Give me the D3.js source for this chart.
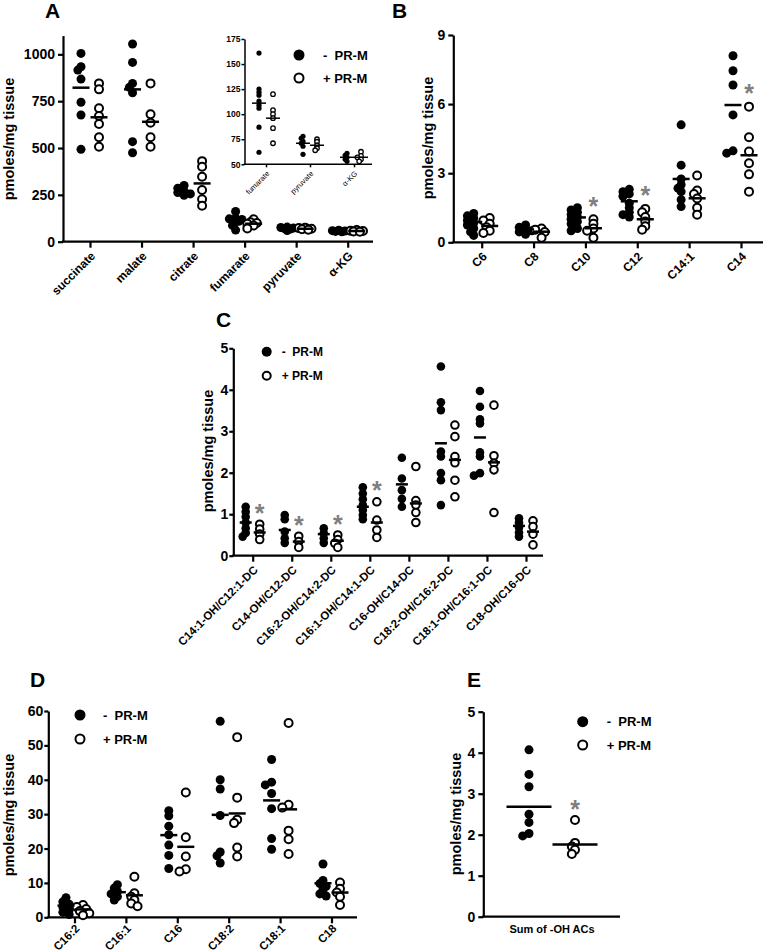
<!DOCTYPE html>
<html>
<head>
<meta charset="utf-8">
<script src="https://cdn.jsdelivr.net/npm/d3@7"></script>
<style>
  html, body { margin: 0; padding: 0; background: #fff; }
  svg { display: block; }
</style>
</head>
<body>
<svg id="chart" width="768" height="952"></svg>
<script>
// ---------------- DATA ----------------
// Panel A (main)
const aCategories = ["succinate", "malate", "citrate", "fumarate", "pyruvate", "α-KG"];
const aTicks = [0, 250, 500, 750, 1000];
const aMinus = [
  [1005, 934, 916, 868, 744, 676, 493],
  [1055, 957, 845, 824, 795, 534, 475],
  [300, 285, 270, 262, 255, 248],
  [161, 125, 122, 119, 113, 109, 106, 87, 62],
  [78, 76, 73, 71, 68, 60],
  [61, 59, 57, 55, 53]
];
const aPlus = [
  [845, 813, 712, 671, 628, 557, 507],
  [845, 680, 635, 557, 507],
  [430, 400, 347, 276, 226, 192],
  [120, 104, 100, 96, 86, 71],
  [75, 72.5, 69, 66, 64],
  [62.5, 58.5, 57, 55, 53]
];
const aMeanMinus = [822, 813, 270, 111, 71, 57];
const aMeanPlus = [664, 640, 311, 96, 69, 57];
// Panel A inset
const insetCategories = ["fumarate", "pyruvate", "α-KG"];
const insetTicks = [50, 75, 100, 125, 150, 175];

// Panel B
const bCategories = ["C6", "C8", "C10", "C12", "C14:1", "C14"];
const bTicks = [0, 3, 6, 9];
const bMinus = [
  [1.25, 1.15, 1.05, 0.95, 0.85, 0.75, 0.6, 0.45, 0.3],
  [0.75, 0.65, 0.55, 0.5, 0.45, 0.35],
  [1.5, 1.4, 1.3, 1.2, 1.1, 1.0, 0.9, 0.8, 0.6, 0.5],
  [2.3, 2.2, 2.1, 2.0, 1.7, 1.5, 1.3, 1.2, 1.1],
  [5.1, 3.35, 2.75, 2.5, 2.35, 2.2, 1.85, 1.55],
  [8.1, 7.45, 6.83, 5.53, 3.97, 3.87]
];
const bPlus = [
  [1.05, 0.95, 0.8, 0.65, 0.5, 0.4],
  [0.6, 0.55, 0.45, 0.2],
  [1.0, 0.8, 0.6, 0.5, 0.2],
  [1.45, 1.3, 1.1, 0.9, 0.7, 0.55],
  [2.9, 2.25, 2.1, 1.9, 1.5, 1.2],
  [5.89, 4.56, 3.94, 3.43, 2.95, 2.2]
];
const bMeanMinus = [0.88, 0.56, 1.08, 1.78, 2.75, 5.96];
const bMeanPlus = [0.71, 0.46, 0.61, 1.0, 1.91, 3.78];
const bStarCats = ["C10", "C12", "C14"];
const bStarValues = [1.84, 2.32, 6.73];

// Panel C
const cCategories = ["C14:1-OH/C12:1-DC", "C14-OH/C12-DC", "C16:2-OH/C14:2-DC", "C16:1-OH/C14:1-DC",
  "C16-OH/C14-DC", "C18:2-OH/C16:2-DC", "C18:1-OH/C16:1-DC", "C18-OH/C16-DC"];
const cTicks = [0, 1, 2, 3, 4, 5];
const cMinus = [
  [1.18, 1.06, 0.94, 0.8, 0.66, 0.55, 0.46],
  [0.98, 0.88, 0.58, 0.42, 0.31],
  [0.66, 0.54, 0.42, 0.31],
  [1.65, 1.5, 1.36, 1.22, 1.1, 0.98, 0.88],
  [2.36, 1.86, 1.58, 1.37, 1.18],
  [4.56, 3.7, 3.51, 2.51, 2.39, 1.99, 1.82, 1.22],
  [3.97, 3.59, 3.29, 3.19, 2.49, 2.39, 1.99, 1.93],
  [0.9, 0.8, 0.68, 0.56, 0.46]
];
const cPlus = [
  [0.76, 0.64, 0.52, 0.39],
  [0.47, 0.34, 0.2],
  [0.5, 0.39, 0.3, 0.2],
  [1.3, 0.86, 0.62, 0.44],
  [2.15, 1.33, 1.22, 1.04, 0.8],
  [3.15, 2.87, 2.39, 2.24, 1.82, 1.42],
  [3.63, 2.41, 2.23, 2.07, 1.04],
  [0.84, 0.7, 0.52, 0.26]
];
const cMeanMinus = [0.8, 0.62, 0.52, 1.18, 1.72, 2.71, 2.85, 0.72];
const cMeanPlus = [0.56, 0.34, 0.36, 0.8, 1.26, 2.31, 2.25, 0.58];
const cStarCats = ["C14:1-OH/C12:1-DC", "C14-OH/C12-DC", "C16:2-OH/C14:2-DC", "C16:1-OH/C14:1-DC"];
const cStarValues = [1.18, 0.88, 0.9, 1.73];

// Panel D
const dCategories = ["C16:2", "C16:1", "C16", "C18:2", "C18:1", "C18"];
const dTicks = [0, 10, 20, 30, 40, 50, 60];
const dMinus = [
  [5.7, 4.5, 3.8, 3.0, 2.2, 1.5, 0.8],
  [9.5, 8.5, 7.5, 6.8, 6.0, 5.0],
  [31, 29.5, 26.5, 24, 21, 18, 14.2],
  [57, 40, 37.3, 29.6, 19, 17.9, 15.8],
  [45.9, 39.3, 38.5, 36, 31.6, 22.9, 19.8],
  [15.5, 10.7, 9.8, 9.0, 8.0, 6.8, 6.2]
];
const dPlus = [
  [3.6, 3.0, 2.4, 1.8, 1.2, 0.6],
  [11.8, 7.0, 6.0, 5.0, 4.0, 3.2],
  [36.3, 23.3, 17.7, 14, 13.3],
  [52.4, 34.8, 28.4, 27.4, 20.3, 17.7],
  [56.5, 32.7, 31.9, 25.2, 22.7, 18.4],
  [10.1, 8.3, 7.2, 6.0, 3.6]
];
const dMeanMinus = [3.4, 7.3, 23.9, 29.8, 34, 9.9];
const dMeanPlus = [2.3, 6.4, 20.5, 30.2, 31.4, 7.2];

// Panel E
const eCategories = ["Sum of -OH ACs"];
const eTicks = [0, 1, 2, 3, 4, 5];
const eMinus = [[4.07, 3.47, 3.17, 2.5, 2.3, 2.03, 1.97]];
const ePlus = [[2.36, 1.8, 1.71, 1.63, 1.53]];
const eMeanMinus = [2.68];
const eMeanPlus = [1.76];
const eStarCats = ["Sum of -OH ACs"];
const eStarValues = [2.78];

const legendMinus = "-  PR-M";
const legendPlus = "+ PR-M";
const yLabel = "pmoles/mg tissue";

// ---------------- DRAWING ----------------
const FONT = "'Liberation Sans', Arial, Helvetica, sans-serif";
const svg = d3.select("#chart");
svg.append("rect").attr("width", 768).attr("height", 952).attr("fill", "#fff");

function swarm(vals, y, r) {
  const pts = vals.map(v => ({ v, py: y(v), dx: 0 }));
  const sorted = pts.slice().sort((a, b) => a.py - b.py);
  const placed = [];
  const minD = r * 0.95, step = r * 0.7;
  const cands = [0];
  for (let k = 1; k <= 2; k++) cands.push(-k * step, k * step);
  for (const p of sorted) {
    let best = null, bestD = -1;
    for (const dx of cands) {
      let md = Infinity;
      for (const q of placed) md = Math.min(md, Math.hypot(q.dx - dx, q.py - p.py));
      if (md >= minD) { best = dx; break; }
      if (md > bestD) { bestD = md; best = dx; }
    }
    p.dx = best;
    placed.push(p);
  }
  return pts;
}

function drawPanel(c) {
  const g = svg.append("g");
  const y = d3.scaleLinear().domain(c.domain).range([c.yBottom, c.yTop]);
  const x = d3.scalePoint().domain(c.cats).range([c.first, c.last]);

  // y axis
  const ya = g.append("g").attr("transform", `translate(${c.x0},0)`)
    .call(d3.axisLeft(y).tickValues(c.ticks).tickFormat(d3.format("d"))
      .tickSize(c.tickLen).tickPadding(c.tickPad).tickSizeOuter(0));
  ya.select(".domain").attr("stroke", "#000").attr("stroke-width", c.sw);
  ya.selectAll(".tick line").attr("stroke", "#000").attr("stroke-width", c.sw);
  ya.selectAll(".tick text").attr("font-family", FONT).attr("font-weight", "bold")
    .attr("font-size", c.yFont).attr("fill", "#000");

  // x axis line
  g.append("line").attr("x1", c.x0 - c.sw / 2).attr("x2", c.x1)
    .attr("y1", c.yBottom).attr("y2", c.yBottom).attr("stroke", "#000").attr("stroke-width", c.sw);

  // x ticks
  const xa = g.append("g").attr("transform", `translate(0,${c.yBottom})`)
    .call(d3.axisBottom(x).tickSize(c.xTickLen).tickSizeOuter(0));
  xa.select(".domain").remove();
  xa.selectAll(".tick line").attr("stroke", "#000").attr("stroke-width", c.sw);
  xa.selectAll(".tick text").remove();

  // x labels
  c.cats.forEach(cat => {
    if (c.rotate) {
      const ax = x(cat) + c.lblDx, ay = c.yBottom + c.lblDy;
      g.append("text").attr("transform", `translate(${ax},${ay}) rotate(-45)`)
        .attr("text-anchor", "end").attr("dy", "0.35em")
        .attr("font-family", FONT).attr("font-weight", c.xBold ? "bold" : "normal")
        .attr("font-size", c.xFont).attr("fill", "#000").text(cat);
    } else {
      g.append("text").attr("x", x(cat)).attr("y", c.yBottom + c.lblDy)
        .attr("text-anchor", "middle")
        .attr("font-family", FONT).attr("font-weight", "bold")
        .attr("font-size", c.xFont).attr("fill", "#000").text(cat);
    }
  });

  // dots
  c.cats.forEach((cat, i) => {
    const cx0 = x(cat) - c.off, cx1 = x(cat) + c.off;
    swarm(c.minus[i], y, c.r).forEach(p => {
      g.append("circle").attr("cx", cx0 + p.dx).attr("cy", p.py).attr("r", c.r).attr("fill", "#000");
    });
    swarm(c.plus[i], y, c.r).forEach(p => {
      g.append("circle").attr("cx", cx1 + p.dx).attr("cy", p.py).attr("r", c.r + c.openExtra - c.osw / 2)
        .attr("fill", "#fff").attr("stroke", "#000").attr("stroke-width", c.osw);
    });
    // mean lines
    g.append("line").attr("x1", cx0 - c.meanW / 2).attr("x2", cx0 + c.meanW / 2)
      .attr("y1", y(c.meanMinus[i])).attr("y2", y(c.meanMinus[i]))
      .attr("stroke", "#000").attr("stroke-width", c.meanSw);
    g.append("line").attr("x1", cx1 - c.meanW / 2).attr("x2", cx1 + c.meanW / 2)
      .attr("y1", y(c.meanPlus[i])).attr("y2", y(c.meanPlus[i]))
      .attr("stroke", "#000").attr("stroke-width", c.meanSw);
  });

  // stars
  if (c.starCats) {
    c.starCats.forEach((cat, i) => {
      const fs = 25;
      g.append("text").attr("x", x(cat) + c.off).attr("y", y(c.starValues[i]) + fs * 0.6)
        .attr("text-anchor", "middle").attr("font-family", FONT).attr("font-weight", "bold")
        .attr("font-size", fs).attr("fill", "#7f7f7f").text("*");
    });
  }

  // y label
  if (c.ylab) {
    g.append("text").attr("transform", `translate(${c.ylab[0]},${c.ylab[1]}) rotate(-90)`)
      .attr("text-anchor", "middle").attr("font-family", FONT).attr("font-weight", "bold")
      .attr("font-size", 14.5).attr("fill", "#000").text(yLabel);
  }
  // panel letter
  if (c.letter) {
    svg.append("text").attr("x", c.letter[1]).attr("y", c.letter[2])
      .attr("font-family", FONT).attr("font-weight", "bold").attr("font-size", 21)
      .attr("fill", "#000").text(c.letter[0]);
  }
  // legend
  if (c.legend) {
    const [lx, ly1, ly2, tx, lr, lfs] = c.legend;
    svg.append("circle").attr("cx", lx).attr("cy", ly1).attr("r", lr).attr("fill", "#000");
    svg.append("circle").attr("cx", lx).attr("cy", ly2).attr("r", lr - 1)
      .attr("fill", "#fff").attr("stroke", "#000").attr("stroke-width", 2);
    svg.append("text").attr("x", tx).attr("y", ly1).attr("dy", "0.36em")
      .attr("xml:space", "preserve").style("white-space", "pre")
      .attr("font-family", FONT).attr("font-weight", "bold").attr("font-size", lfs)
      .attr("fill", "#000").text(legendMinus);
    svg.append("text").attr("x", tx).attr("y", ly2).attr("dy", "0.36em")
      .attr("font-family", FONT).attr("font-weight", "bold").attr("font-size", lfs)
      .attr("fill", "#000").text(legendPlus);
  }
}

// Panel A main
drawPanel({
  cats: aCategories, minus: aMinus, plus: aPlus, meanMinus: aMeanMinus, meanPlus: aMeanPlus,
  domain: [0, 1100], ticks: aTicks, x0: 63, x1: 373, yTop: 35.6, yBottom: 241.7,
  first: 90, last: 347.7, off: 9, r: 4.5, openExtra: 0.5, osw: 2, meanW: 17, meanSw: 2.5, sw: 2.2,
  tickLen: 5, tickPad: 3, yFont: 14, xTickLen: 6, xFont: 12, xBold: true, rotate: true, lblDx: 3, lblDy: 12,
  ylab: [14, 139], letter: ["A", 45, 18]
});

// Panel A inset
drawPanel({
  cats: insetCategories, minus: aMinus.slice(3), plus: aPlus.slice(3),
  meanMinus: aMeanMinus.slice(3), meanPlus: aMeanPlus.slice(3),
  domain: [50, 175], ticks: insetTicks, x0: 244.5, x1: 372, yTop: 39, yBottom: 164.3,
  first: 266, last: 354, off: 7, r: 2.6, openExtra: 0.3, osw: 1.3, meanW: 14, meanSw: 1.5, sw: 1.5,
  tickLen: 3, tickPad: 1, yFont: 8.5, xTickLen: 3, xFont: 7.5, xBold: false, rotate: true, lblDx: 2, lblDy: 8,
  legend: [299, 55, 78, 323, 5.5, 13]
});

// Panel B
drawPanel({
  cats: bCategories, minus: bMinus, plus: bPlus, meanMinus: bMeanMinus, meanPlus: bMeanPlus,
  domain: [0, 9], ticks: bTicks, x0: 453.3, x1: 763, yTop: 35, yBottom: 242.3,
  first: 481.7, last: 741, off: 8, r: 4.5, openExtra: 0.5, osw: 2, meanW: 17, meanSw: 2.5, sw: 2.2,
  tickLen: 5, tickPad: 3, yFont: 14, xTickLen: 6, xFont: 12, xBold: true, rotate: true, lblDx: 3, lblDy: 12,
  starCats: bStarCats, starValues: bStarValues,
  ylab: [433, 138], letter: ["B", 392, 18]
});

// Panel C
drawPanel({
  cats: cCategories, minus: cMinus, plus: cPlus, meanMinus: cMeanMinus, meanPlus: cMeanPlus,
  domain: [0, 5], ticks: cTicks, x0: 233.3, x1: 543, yTop: 348.3, yBottom: 555.7,
  first: 252.7, last: 526, off: 7, r: 4.3, openExtra: 0.5, osw: 2, meanW: 12, meanSw: 2.5, sw: 2.2,
  tickLen: 4, tickPad: 1, yFont: 14, xTickLen: 6, xFont: 11.5, xBold: true, rotate: true, lblDx: 3, lblDy: 12,
  starCats: cStarCats, starValues: cStarValues,
  ylab: [213, 451], letter: ["C", 216, 327],
  legend: [266.7, 351.7, 375.7, 281.7, 5, 12]
});

// Panel D
drawPanel({
  cats: dCategories, minus: dMinus, plus: dPlus, meanMinus: dMeanMinus, meanPlus: dMeanPlus,
  domain: [0, 60], ticks: dTicks, x0: 48.3, x1: 357, yTop: 711, yBottom: 917.3,
  first: 74.5, last: 331.5, off: 8.5, r: 4.5, openExtra: 0.5, osw: 2, meanW: 17, meanSw: 2.5, sw: 2.2,
  tickLen: 4, tickPad: 1, yFont: 14, xTickLen: 6, xFont: 11.5, xBold: true, rotate: true, lblDx: 3, lblDy: 9,
  ylab: [14, 815], letter: ["D", 30, 687],
  legend: [80, 715, 739, 103, 5.5, 13]
});

// Panel E
drawPanel({
  cats: eCategories, minus: eMinus, plus: ePlus, meanMinus: eMeanMinus, meanPlus: eMeanPlus,
  domain: [0, 5], ticks: eTicks, x0: 483.3, x1: 620, yTop: 711.7, yBottom: 916.7,
  first: 552, last: 552, off: 23, r: 4.5, openExtra: 0.5, osw: 2, meanW: 45, meanSw: 2.5, sw: 2.2,
  tickLen: 5, tickPad: 3, yFont: 14, xTickLen: 0, xFont: 11, xBold: true, rotate: false, lblDy: 16,
  starCats: eStarCats, starValues: eStarValues,
  ylab: [461, 814], letter: ["E", 467, 687],
  legend: [582.7, 721.7, 745, 606.7, 5.5, 13]
});
</script>
</body>
</html>
